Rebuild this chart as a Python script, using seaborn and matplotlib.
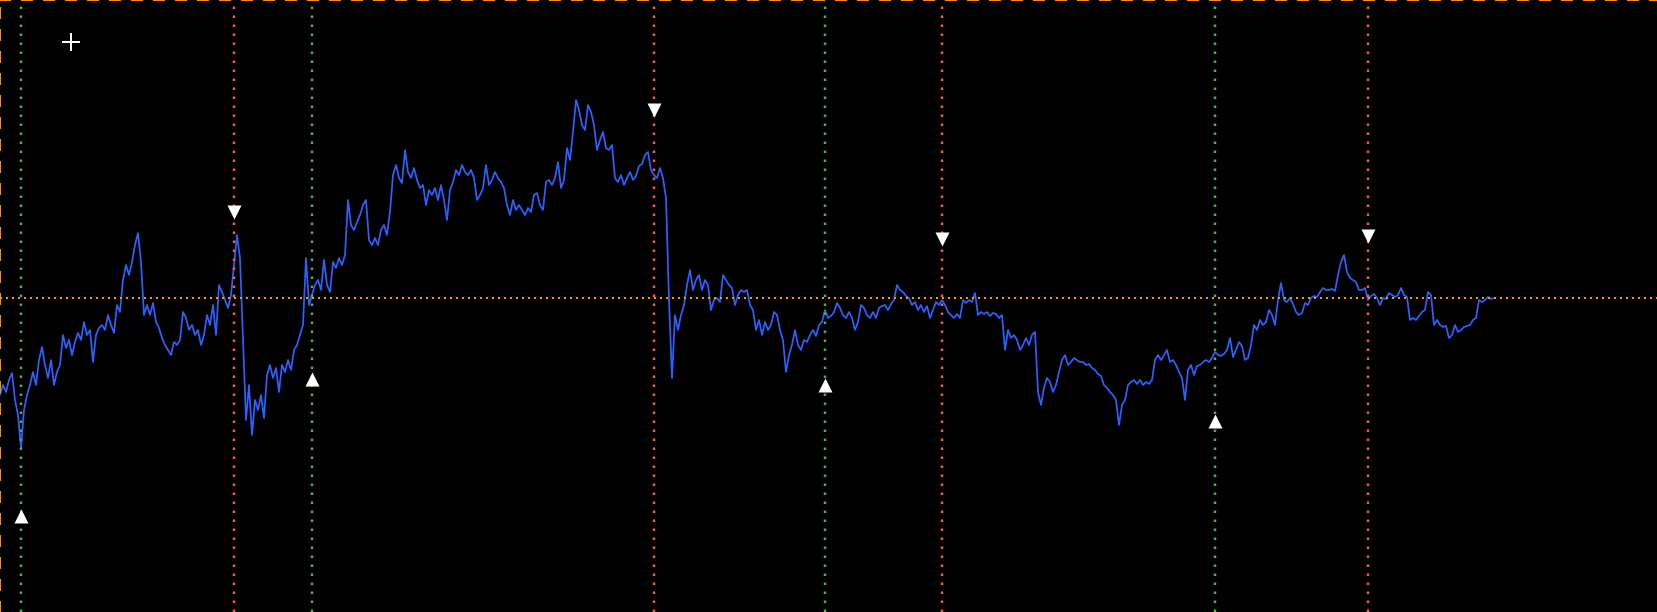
import numpy as np
import pandas as pd
import matplotlib
matplotlib.use("Agg")
import matplotlib.pyplot as plt
import seaborn as sns

# ---- data (price, one sample every few bars) ----
prices = [
    217, 227, 220, 232, 239, 212, 197, 164, 202, 217,
    227, 240, 227, 252, 265, 247, 234, 252, 227, 240,
    247, 277, 264, 272, 257, 270, 279, 272, 290, 277,
    282, 250, 277, 284, 287, 282, 297, 287, 279, 307,
    300, 332, 347, 337, 350, 367, 379, 350, 297, 307,
    297, 309, 290, 284, 274, 267, 262, 257, 270, 267,
    272, 300, 294, 282, 287, 277, 282, 267, 277, 297,
    287, 307, 277, 327, 320, 312, 304, 317, 347, 377,
    354, 272, 192, 227, 177, 212, 202, 217, 194, 237,
    247, 234, 244, 220, 247, 240, 252, 242, 262, 267,
    277, 287, 354, 307, 317, 327, 332, 322, 352, 327,
    320, 350, 344, 354, 347, 357, 412, 387, 382, 390,
    397, 407, 412, 372, 367, 374, 367, 382, 387, 377,
    400, 437, 447, 434, 429, 462, 440, 434, 444, 432,
    424, 427, 407, 422, 417, 424, 412, 427, 412, 392,
    422, 430, 442, 437, 447, 440, 437, 442, 434, 412,
    417, 424, 447, 427, 432, 440, 434, 430, 424, 407,
    397, 412, 402, 407, 402, 397, 404, 400, 417, 419,
    407, 402, 430, 432, 427, 434, 450, 424, 432, 464,
    452, 480, 512, 502, 487, 482, 507, 500, 487, 462,
    472, 480, 464, 462, 467, 434, 430, 437, 427, 434,
    440, 432, 436, 446, 448, 457, 460, 442, 437, 434,
    444, 434, 414, 312, 234, 297, 282, 297, 307, 327,
    342, 322, 332, 337, 322, 332, 327, 302, 312, 314,
    310, 337, 332, 327, 324, 307, 317, 322, 320, 322,
    307, 302, 282, 292, 277, 290, 282, 287, 300, 297,
    282, 272, 240, 257, 267, 282, 267, 262, 272, 270,
    277, 282, 276, 287, 290, 302, 294, 296, 300, 309,
    304, 297, 294, 300, 294, 282, 290, 307, 304, 297,
    294, 300, 294, 304, 306, 307, 302, 308, 312, 327,
    322, 320, 316, 314, 307, 310, 302, 307, 300, 306,
    294, 302, 310, 307, 312, 307, 300, 297, 294, 298,
    294, 312, 309, 312, 310, 319, 297, 300, 298, 300,
    296, 299, 298, 294, 297, 262, 282, 274, 277, 272,
    262, 267, 274, 267, 277, 280, 220, 207, 224, 234,
    230, 220, 227, 240, 252, 257, 247, 250, 254, 252,
    250, 250, 247, 248, 244, 242, 238, 236, 227, 224,
    220, 217, 212, 187, 207, 212, 227, 230, 232, 228,
    232, 227, 230, 228, 232, 252, 257, 252, 257, 262,
    250, 252, 247, 240, 234, 212, 242, 247, 237, 246,
    247, 250, 252, 250, 254, 260, 257, 256, 258, 262,
    274, 255, 262, 270, 266, 252, 254, 267, 287, 282,
    292, 287, 290, 302, 297, 287, 312, 329, 312, 310,
    314, 308, 300, 297, 299, 309, 307, 314, 316, 315,
    320, 324, 322, 322, 323, 321, 337, 350, 357, 340,
    334, 332, 330, 322, 322, 324, 312, 316, 318, 314,
    307, 314, 313, 319, 317, 315, 317, 324, 317, 315,
    292, 294, 292, 296, 300, 302, 320, 317, 287, 292,
    287, 285, 286, 274, 277, 287, 280, 282, 285, 286,
    287, 292, 294, 312, 310, 312, 315, 313, 314,
]
buy_bars = [7, 104, 275, 405]
buy_marks = [96, 233, 227, 191]
sell_bars = [78, 218, 314, 456]
sell_marks = [400, 502, 373, 376]
ref_level = 314.3

bars = np.arange(len(prices))
df = pd.DataFrame({"bar": bars, "price": prices})
buys = pd.DataFrame({"bar": buy_bars, "price": buy_marks})
sells = pd.DataFrame({"bar": sell_bars, "price": sell_marks})

# ---- style ----
sns.set_style("dark", {"axes.facecolor": "black", "figure.facecolor": "black"})
W, H, DPI = 1658, 612, 100
fig = plt.figure(figsize=(W / DPI, H / DPI), dpi=DPI, facecolor="black")
ax = fig.add_axes([0, 0, 1, 1])
ax.set_facecolor("black")

sns.lineplot(data=df, x="bar", y="price", ax=ax, color="#2962FF",
             linewidth=1.25, zorder=2, estimator=None)

px = 72.0 / DPI  # points per pixel
for b in buy_bars:
    ax.axvline(b, color="#4CAF50", linewidth=2.5 * px,
               linestyle=(0, (1, 2.6)), zorder=3)
for b in sell_bars:
    ax.axvline(b, color="#FF5252", linewidth=2.5 * px,
               linestyle=(0, (1, 2.6)), zorder=3)
ax.axhline(ref_level, color="#FF9800", linewidth=2 * px,
           linestyle=(0, (1, 2)), zorder=3)

sns.scatterplot(data=buys, x="bar", y="price", ax=ax, marker="^",
                s=(14 * px) ** 2, color="white", linewidth=0, zorder=4)
sns.scatterplot(data=sells, x="bar", y="price", ax=ax, marker="v",
                s=(14 * px) ** 2, color="white", linewidth=0, zorder=4)

# crosshair glyph
ax.plot([71 / W], [1 - 42 / H], marker="+", markersize=18 * px,
        markeredgewidth=2 * px, color="white", transform=ax.transAxes,
        zorder=5)

ax.set_xlim(0, W / 3)
ax.set_ylim(0, H)
ax.set_xticks([])
ax.set_yticks([])
ax.set_xlabel("")
ax.set_ylabel("")
ax.grid(False)
if ax.get_legend():
    ax.get_legend().remove()

for side in ["bottom", "right"]:
    ax.spines[side].set_visible(False)
for side in ["top", "left"]:
    sp = ax.spines[side]
    sp.set_visible(True)
    sp.set_color("#FF8C00")
    sp.set_linewidth(2 * px)
    sp.set_linestyle((0, (5, 6)))

fig.savefig("out.png", dpi=DPI, facecolor="black")
